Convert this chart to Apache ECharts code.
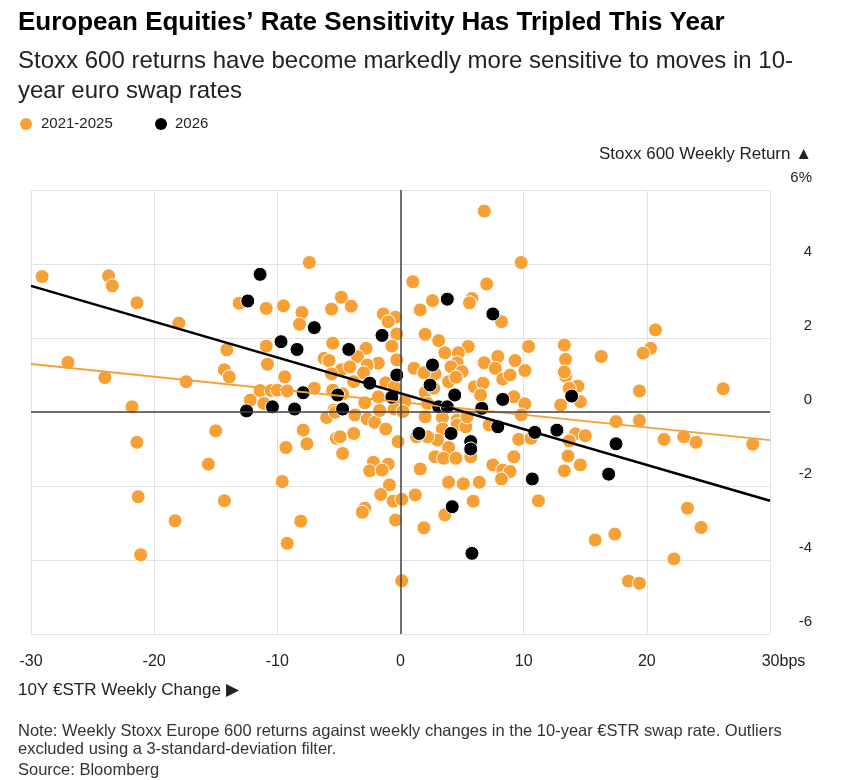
<!DOCTYPE html>
<html lang="en">
<head>
    <meta charset="UTF-8">
    <title>European Equities' Rate Sensitivity</title>
    <style>
        html, body {margin: 0; padding: 0; background: #fff;}
        #chart {width: 841px; height: 780px;}
    </style>
</head>
<body>
<div id="chart"></div>
<script src="https://cdn.jsdelivr.net/npm/echarts@6/dist/echarts.min.js"></script>
<script>
    // 2021-2025 weekly points: x = 10Y €STR change (bps), y = Stoxx 600 return (%)
    let oldX = [-29.1, -23.7, -23.4, -21.4, -18.0, -27.0, -24.0, -17.4, -21.8, -14.1, -14.3, -13.9, -13.1, -10.9, -10.9, -10.8,
        -11.4, -10.5, -12.2, -11.1, -15.0, -21.4, -15.6, -21.3, -14.3, -18.3, -21.1,
        -7.4, -4.8, -4.0, -5.6, -9.5, -8.0, -8.2, -1.4, -0.4, -1.0, -0.3, -5.5, -2.8, -0.7, -6.2, -5.8, -3.5, -1.8, -0.3,
        -4.8, -4.1, -2.7, -3.0, -5.6, -9.4, -10.0, -9.2, -7.0, -5.5, -4.7, -3.8, -1.2, -2.9, -1.8, -0.5, -5.4,
        6.8, 9.8, 1.0, 7.0, 2.6, 5.8, 5.6, 1.6, 8.2, 2.0, 3.1, 5.5, 3.6, 4.7, 1.1, 4.6, 4.1, 5.0, 2.8, 1.9,
        6.8, 7.9, 7.7, 9.3, 10.1, 8.3, 8.9, 3.9, 4.5, 6.0, 6.7, 6.5, 9.2, 2.0, 2.7, 0.35, 2.2, 10.1,
        -6.0, -5.3, -3.7, -2.7, -2.1, -1.7, -1.2, -0.5, -7.9, -7.6, -9.3, -5.2, -4.9, -3.8, -4.7, -0.2, -2.2, -1.0,
        -2.5, -1.5, -9.6, -0.9, -1.6, -0.6, -2.9, -3.1, -8.1, -0.4,
        2.0, 3.4, 4.6, 4.6, 5.3, 5.4, 3.4, 3.0, 2.2, 1.3, 3.9, 2.8, 3.5, 4.5, 5.7, 7.2, 9.6, 9.8, 9.2, 7.5, 8.3,
        8.9, 8.2, 1.6, 3.9, 5.1, 6.4, 1.2, 0.1, 5.9, 3.6, 1.9, 0.2, -9.2, 0.1,
        20.7, 20.3, 19.7, 10.4, 13.3, 13.4, 16.3, 13.4, 13.3, 14.4, 13.7, 14.6, 13.0, 19.4, 26.2,
        10.6, 17.5, 19.4, 14.2, 15.0, 13.7, 13.6, 14.6, 13.3, 21.4, 23.0, 24.0, 28.6, 11.2, 23.3, 24.4, 17.4,
        15.8, 22.2, 18.5, 19.4];
    let oldY = [3.66, 3.68, 3.41, 2.95, 2.40, 1.34, 0.93, 0.82, 0.14, 1.68, 1.14, 0.95, 2.94, 2.80, 1.78, 1.29,
        0.58, 0.58, 0.32, 0.23, -0.51, -0.82, -1.41, -2.29, -2.40, -2.94, -3.86,
        4.04, 3.10, 2.86, 2.78, 2.87, 2.69, 2.37, 2.65, 2.56, 2.44, 2.11, 1.86, 1.72, 1.78, 1.45, 1.39, 1.50, 1.32, 1.41,
        1.14, 1.22, 1.27, 1.06, 1.03, 0.95, 0.59, 0.57, 0.64, 0.59, 0.49, 0.82, 0.79, 0.25, 0.41, 0.68, 0.05,
        5.43, 4.04, 3.52, 3.46, 3.01, 3.07, 2.95, 2.76, 2.44, 2.10, 1.93, 1.77, 1.60, 1.60, 1.18, 1.33, 1.22, 1.09, 1.03, 1.06,
        1.33, 1.50, 1.18, 1.39, 1.12, 0.89, 1.00, 0.82, 0.94, 0.68, 0.78, 0.46, 0.41, 0.53, 0.64, 0.28, 0.23, 0.22,
        -0.15, -0.01, -0.08, -0.19, -0.28, 0.04, -0.46, 0.08, -0.49, -0.86, -0.96, -0.71, -0.67, -0.58, -1.12, -0.80, -1.36, -1.41,
        -1.59, -1.57, -1.88, -1.97, -2.23, -2.41, -2.60, -2.71, -2.95, -2.92,
        -0.13, -0.15, -0.22, -0.35, -0.40, -0.13, -0.46, -0.76, -0.67, -0.67, -0.96, -1.21, -1.25, -1.25, -1.21, -0.35, -0.74, -0.08, -1.21, -1.43, -1.57,
        -1.61, -1.81, -1.54, -1.90, -1.94, -1.90, -2.24, -2.36, -2.41, -2.78, -3.13, 0.01, -3.55, -4.56,
        2.22, 1.72, 1.59, 1.77, 1.81, 1.42, 1.50, 0.97, 1.08, 0.70, 0.64, 0.28, 0.19, 0.57, 0.63,
        -0.71, -0.26, -0.23, -0.59, -0.64, -0.78, -1.19, -1.43, -1.59, -0.74, -0.67, -0.82, -0.87, -2.40, -2.60, -3.12, -3.30,
        -3.46, -3.97, -4.57, -4.63];

    // 2026 weekly points
    let newX = [-11.4, -12.4, -12.5, -10.4, -7.0, -1.5, -9.7, -8.4, -4.2, -0.3, -2.5, -7.9, -5.1, -0.7, -8.6, -4.7,
        3.8, 7.5, 2.6, 2.4, 4.4, 8.3, 3.1, 3.8, 6.6, 1.5, 4.1, 5.7, 5.7, 7.9, 4.2, 5.8,
        13.9, 10.9, 12.7, 17.5, 16.9, 10.7];
    let newY = [3.72, 3.00, 0.03, 0.14, 2.28, 2.07, 1.90, 1.69, 1.69, 1.00, 0.78, 0.52, 0.46, 0.40, 0.08, 0.08,
        3.05, 2.65, 1.27, 0.73, 0.46, 0.34, 0.14, 0.14, 0.10, -0.58, -0.58, -0.80, -1.00, -0.40, -2.56, -3.82,
        0.43, -0.55, -0.49, -0.86, -1.68, -1.81];

    // fitted lines, end points at -30 and 30 bps
    let fitX    = [-30, 30];
    let oldFitY = [1.30, -0.76];
    let newFitY = [3.41, -2.40];

    let xTicks = [-30, -20, -10, 0, 10, 20, 30];
    let yTicks = [-6, -4, -2, 0, 2, 4, 6];

    let orange   = '#f7a035';
    let fontName = '"Liberation Sans", Arial, sans-serif';

    function zip(xs, ys) {
        return xs.map(function (x, i) {
            return [x, ys[i]];
        });
    }

    let chart = echarts.init(document.getElementById('chart'), null, {renderer: 'canvas'});

    let option = {
        animation: false,
        textStyle: {fontFamily: fontName},
        grid     : {left: 31, right: 71, top: 190, bottom: 146},
        xAxis    : {
            type     : 'value',
            min      : xTicks[0],
            max      : xTicks[xTicks.length - 1],
            interval : 10,
            axisLine : {show: false},
            axisTick : {show: false},
            splitLine: {show: true, lineStyle: {color: '#e2e2e2', width: 1}},
            axisLabel: {
                margin      : 20,
                fontSize    : 16,
                color       : '#222',
                showMinLabel: true,
                showMaxLabel: true,
                formatter   : function (v) {
                    if (v === 30) {
                        return '{pad|}' + v + '{u|bps}';
                    }
                    return String(v);
                },
                rich        : {
                    pad: {width: 27},
                    u  : {fontSize: 16, color: '#222'}
                }
            }
        },
        yAxis    : {
            type     : 'value',
            position : 'right',
            min      : yTicks[0],
            max      : yTicks[yTicks.length - 1],
            interval : 2,
            axisLine : {show: false},
            axisTick : {show: false},
            splitLine: {show: true, lineStyle: {color: '#e2e2e2', width: 1}},
            axisLabel: {
                margin       : 42,
                align        : 'right',
                verticalAlign: 'bottom',
                padding      : [0, 0, 5, 0],
                fontSize     : 15,
                color        : '#222',
                formatter    : function (v) {
                    return v === 6 ? '6%' : String(v);
                }
            }
        },
        series   : [
            {
                // zero lines
                type     : 'line',
                data     : [],
                z        : 1,
                markLine : {
                    silent   : true,
                    symbol   : 'none',
                    label    : {show: false},
                    lineStyle: {color: '#444', width: 1.5, type: 'solid'},
                    data     : [{xAxis: 0}, {yAxis: 0}]
                }
            },
            {
                name      : '2021-2025',
                type      : 'scatter',
                z         : 2,
                symbolSize: 14,
                itemStyle : {color: orange, borderColor: '#fff', borderWidth: 1, opacity: 1},
                data      : zip(oldX, oldY)
            },
            {
                name      : '2026',
                type      : 'scatter',
                z         : 3,
                symbolSize: 14,
                itemStyle : {color: '#000', borderColor: '#fff', borderWidth: 1, opacity: 1},
                data      : zip(newX, newY)
            },
            {
                type     : 'line',
                z        : 4,
                symbol   : 'none',
                lineStyle: {color: orange, width: 2},
                data     : zip(fitX, oldFitY)
            },
            {
                type     : 'line',
                z        : 5,
                symbol   : 'none',
                lineStyle: {color: '#000', width: 2.5},
                data     : zip(fitX, newFitY)
            }
        ],
        graphic  : [
            {
                type : 'text', left: 18, top: 10,
                style: {
                    text: 'European Equities\u2019 Rate Sensitivity Has Tripled This Year',
                    font: 'bold 26px ' + fontName, fill: '#000'
                }
            },
            {
                type : 'text', left: 18, top: 46,
                style: {
                    text      : 'Stoxx 600 returns have become markedly more sensitive to moves in 10-\nyear euro swap rates',
                    font      : '24px ' + fontName, fill: '#222', lineHeight: 30
                }
            },
            {type: 'circle', shape: {cx: 26, cy: 124, r: 6}, style: {fill: orange}},
            {
                type : 'text', left: 41, top: 116,
                style: {text: '2021-2025', font: '15px ' + fontName, fill: '#222'}
            },
            {type: 'circle', shape: {cx: 161, cy: 124, r: 6}, style: {fill: '#000'}},
            {
                type : 'text', left: 175, top: 116,
                style: {text: '2026', font: '15px ' + fontName, fill: '#222'}
            },
            {
                type : 'text', right: 29, top: 146,
                style: {text: 'Stoxx 600 Weekly Return \u25B2', font: '17px ' + fontName, fill: '#222'}
            },
            {
                type : 'text', left: 18, top: 682,
                style: {text: '10Y \u20ACSTR Weekly Change \u25B6', font: '17px ' + fontName, fill: '#222'}
            },
            {
                type : 'text', left: 18, top: 722,
                style: {
                    text      : 'Note: Weekly Stoxx Europe 600 returns against weekly changes in the 10-year \u20ACSTR swap rate. Outliers\nexcluded using a 3-standard-deviation filter.',
                    font      : '16.5px ' + fontName, fill: '#333', lineHeight: 18
                }
            },
            {
                type : 'text', left: 18, top: 762,
                style: {text: 'Source: Bloomberg', font: '16.5px ' + fontName, fill: '#333'}
            }
        ]
    };
    chart.setOption(option);
</script>
</body>
</html>
